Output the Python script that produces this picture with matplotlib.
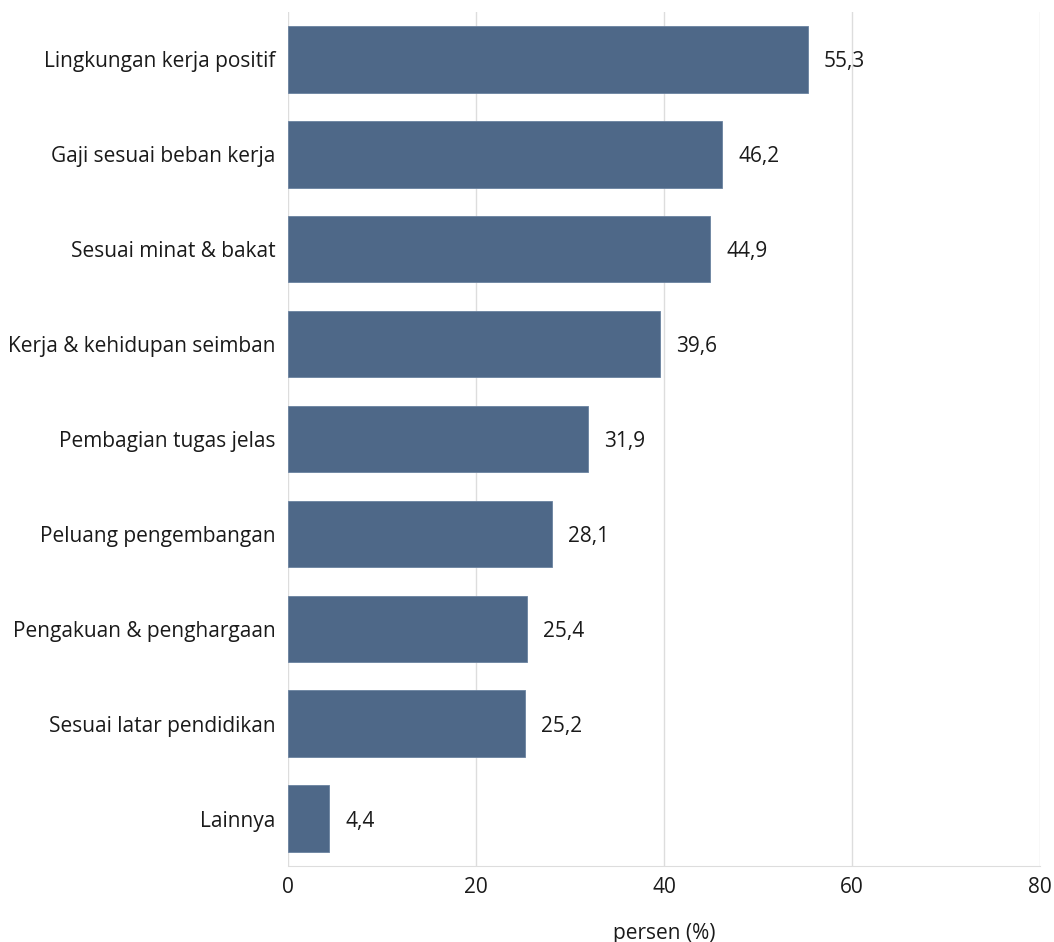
import matplotlib
matplotlib.use("Agg")
import matplotlib.pyplot as plt

categories = ["Lingkungan kerja positif", "Gaji sesuai beban kerja", "Sesuai minat & bakat",
              "Kerja & kehidupan seimban", "Pembagian tugas jelas", "Peluang pengembangan",
              "Pengakuan & penghargaan", "Sesuai latar pendidikan", "Lainnya"]
values = [55.3, 46.2, 44.9, 39.6, 31.9, 28.1, 25.4, 25.2, 4.4]
xticks = [0, 20, 40, 60, 80]

plt.rcParams['font.family'] = ['Open Sans', 'DejaVu Sans']
FS = 15
TC = "#1a1a1a"

fig = plt.figure(figsize=(10.54, 9.42), dpi=100)
ax = fig.add_axes([288/1054, 1-866/942, (1040-288)/1054, (866-12)/942])

pos = list(range(len(categories)))
ax.barh(pos, values, height=0.7, color="#4e6888", edgecolor="#6a82a0", linewidth=0.6, zorder=3)
for p, v in zip(pos, values):
    ax.text(v + 1.7, p, f"{v:.1f}".replace(".", ","), va="center_baseline", ha="left", fontsize=FS, color=TC)

ax.set_yticks(pos)
ax.set_yticklabels(categories, fontsize=FS, color=TC, va="center_baseline")
ax.set_ylim(len(categories) - 0.5, -0.5)
ax.set_xlim(0, 80)
ax.set_xticks(xticks)
ax.set_xticklabels([str(t) for t in xticks], fontsize=FS, color=TC)
ax.tick_params(axis="both", length=0)
ax.tick_params(axis="y", pad=9)
ax.tick_params(axis="x", pad=8)
ax.grid(axis="x", color="#dddddd", linewidth=1, zorder=0)
for s in ["top", "right", "left"]:
    ax.spines[s].set_visible(False)
ax.spines["bottom"].set_color("#dddddd")
ax.set_xlabel("persen (%)", fontsize=FS, color=TC, labelpad=18)

fig.savefig("out.png", dpi=100)
